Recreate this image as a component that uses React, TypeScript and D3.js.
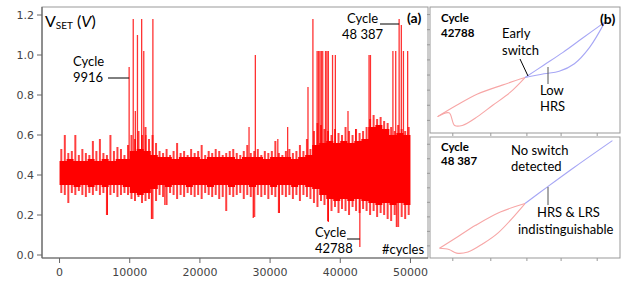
import * as d3 from 'd3';
import React from 'react';

// ---- panel (a): V_SET vs cycle ----
const xTicks = [0, 10000, 20000, 30000, 40000, 50000];
const yTicks = [0.0, 0.2, 0.4, 0.6, 0.8, 1.0, 1.2];

// dense core of the trace, per 1000 cycles
const coreLow = [
  0.35, 0.35, 0.34, 0.35, 0.34, 0.35, 0.34, 0.35, 0.35, 0.34,
  0.31, 0.30, 0.31, 0.33,
  0.35, 0.34, 0.35, 0.35, 0.34, 0.35, 0.35, 0.34, 0.35, 0.35, 0.34,
  0.35, 0.35, 0.34, 0.35, 0.35, 0.34, 0.35, 0.35, 0.34, 0.35, 0.34,
  0.33, 0.30,
  0.28, 0.27, 0.28, 0.27, 0.28, 0.27,
  0.26, 0.25, 0.26,
  0.25, 0.26, 0.25,
];
const coreHigh = [
  0.47, 0.48, 0.47, 0.47, 0.48, 0.47, 0.48, 0.47, 0.48, 0.48,
  0.52, 0.53, 0.52, 0.50,
  0.49, 0.49, 0.48, 0.49, 0.49, 0.49, 0.48, 0.49, 0.49, 0.49, 0.49,
  0.48, 0.49, 0.49, 0.49, 0.48, 0.49, 0.49, 0.49, 0.48, 0.49, 0.50,
  0.55, 0.56,
  0.57, 0.56, 0.57, 0.56, 0.57, 0.58,
  0.64, 0.65, 0.63,
  0.60, 0.61, 0.60,
];

// noisy fringe extent, per 500 cycles
const fringeHigh = [
  0.53, 0.60, 0.51, 0.52, 0.60, 0.50, 0.53, 0.51, 0.50, 0.57,
  0.52, 0.58, 0.51, 0.50, 0.60, 0.52, 0.54, 0.53, 0.50, 0.55,
  0.60, 0.58, 0.62, 0.60, 0.64, 0.58, 0.60, 0.56,
  0.52, 0.51, 0.53, 0.50, 0.52, 0.56, 0.51, 0.52, 0.50, 0.53,
  0.51, 0.52, 0.55, 0.50, 0.52, 0.51, 0.53, 0.52, 0.50, 0.51,
  0.52, 0.53, 0.51, 0.50, 0.52, 0.55, 0.51, 0.52, 0.53, 0.50,
  0.52, 0.51, 0.52, 0.57, 0.51, 0.50, 0.52, 0.53, 0.51, 0.52,
  0.55, 0.52, 0.58, 0.53,
  0.62, 0.66, 0.65, 0.63,
  0.62, 0.60, 0.63, 0.61, 0.60, 0.64, 0.62, 0.60, 0.63, 0.61, 0.62, 0.64,
  0.68, 0.70, 0.68, 0.69, 0.67, 0.66,
  0.64, 0.62, 0.65, 0.63, 0.62, 0.64,
];
const fringeLow = [
  0.31, 0.30, 0.26, 0.31, 0.30, 0.32, 0.30, 0.29, 0.31, 0.30,
  0.32, 0.30, 0.31, 0.20, 0.30, 0.31, 0.29, 0.30, 0.31, 0.30,
  0.28, 0.27, 0.29, 0.26, 0.27, 0.28, 0.18, 0.27,
  0.30, 0.29, 0.25, 0.31, 0.30, 0.28, 0.30, 0.29, 0.31, 0.30,
  0.29, 0.30, 0.28, 0.31, 0.30, 0.29, 0.30, 0.28, 0.29, 0.22,
  0.30, 0.29, 0.30, 0.31, 0.28, 0.30, 0.29, 0.19, 0.30, 0.29,
  0.30, 0.28, 0.30, 0.29, 0.21, 0.30, 0.29, 0.30, 0.28, 0.30,
  0.27, 0.30, 0.29, 0.28,
  0.26, 0.24, 0.27, 0.25,
  0.17, 0.22, 0.24, 0.21, 0.23, 0.22, 0.20, 0.24, 0.22, 0.21, 0.23, 0.22,
  0.20, 0.22, 0.19, 0.21, 0.20, 0.18,
  0.17, 0.20, 0.14, 0.19, 0.18, 0.20,
];

// isolated spikes [cycle, V_SET]
const upSpikes: [number, number][] = [
  [9916, 0.94], [10500, 1.18], [10800, 0.72], [11100, 1.1], [11700, 1.18],
  [12000, 1.02], [12300, 0.6], [13300, 1.18],
  [27000, 0.64], [27900, 1.0], [31100, 0.58], [32500, 0.64], [35400, 0.84],
  [36100, 1.18], [36700, 1.02], [36900, 1.02], [37100, 1.02], [37300, 1.02],
  [37500, 1.02], [37900, 1.02], [38100, 1.02], [38300, 1.02],
  [38900, 1.0], [39300, 1.0], [41100, 0.72], [42200, 0.63],
  [44100, 1.0], [44300, 1.0], [47500, 1.02], [47900, 1.02], [48387, 1.18],
  [48700, 1.15], [49000, 1.02], [49600, 1.02],
];
const downSpikes: [number, number][] = [
  [6800, 0.2], [13100, 0.18], [15000, 0.25], [27600, 0.185], [31300, 0.21],
  [38300, 0.165], [42788, 0.04], [48000, 0.14],
];

// ---- panel (b): I-V loops, normalised units ----
const topRedUpper: [number, number][] = [[4, 13], [14, 22], [25, 31], [38, 38], [50, 44]];
const topRedLower: [number, number][] = [[4, 13], [10, 16], [13, 6], [17, 6], [25, 13], [33, 22], [42, 32], [50, 44]];
const topBlueUpper: [number, number][] = [[50, 44], [60, 54], [70, 64], [80, 75], [92, 88]];
const topBlueLower: [number, number][] = [[50, 44], [60, 47], [68, 49], [76, 55], [84, 68], [92, 88]];
const botRedUpper: [number, number][] = [[5, 8], [15, 18], [24, 27], [37, 38], [50, 45]];
const botRedLower: [number, number][] = [[5, 8], [10, 7], [14, 4], [20, 5], [28, 12], [36, 21], [50, 45]];
const botBlue: [number, number][] = [[50, 45], [62, 59], [76, 75], [96, 97]];
const loopXTicks = [12, 32, 51, 69, 88];
const loopYTicks = [10, 22, 34, 46, 58, 70, 82, 94];

const RED = '#ff0000';
const PINK = '#f7a6a6';
const BLUE = '#a6a6f5';
const ANN = 'Lato, "Open Sans", sans-serif';
const TICKF = '"DejaVu Sans", sans-serif';

const App = () => {
  const W = 623;
  const H = 282;
  const x = d3.scaleLinear().domain([-2500, 52500]).range([42, 428]);
  const y = d3.scaleLinear().domain([-0.015, 1.24]).range([258, 7]);

  const coreArea = d3
    .area<number>()
    .x((_, i) => x(Math.min(i, 49) * 1000 + (i > 49 ? 1000 : 0)))
    .y0((_, i) => y(coreLow[Math.min(i, 49)]))
    .y1((_, i) => y(coreHigh[Math.min(i, 49)]))
    .curve(d3.curveStepAfter);
  const coreData = d3.range(51);

  const panels = [
    { top: 7, bottom: 133, loops: [topRedUpper, topRedLower], blue: [topBlueUpper, topBlueLower] },
    { top: 137, bottom: 258, loops: [botRedUpper, botRedLower], blue: [botBlue] },
  ];

  return (
    <svg width={W} height={H} style={{ position: 'absolute', left: 0, top: 0, background: '#fff' }}>
      {/* panel (a) */}
      <rect x={42} y={7} width={386} height={251} fill="none" stroke="#999" strokeWidth={1} />
      <path d={coreArea(coreData) || ''} fill={RED} />
      {fringeHigh.map((v, i) => (
        <line
          key={'f' + i}
          x1={x(i * 500 + 250)}
          x2={x(i * 500 + 250)}
          y1={y(fringeLow[i])}
          y2={y(v)}
          stroke={RED}
          strokeWidth={2}
          opacity={0.75}
        />
      ))}
      {upSpikes.map(([c, v], i) => (
        <line key={'u' + i} x1={x(c)} x2={x(c)} y1={y(0.45)} y2={y(v)} stroke={RED} strokeWidth={1.3} opacity={0.8} />
      ))}
      {downSpikes.map(([c, v], i) => (
        <line key={'d' + i} x1={x(c)} x2={x(c)} y1={y(0.35)} y2={y(v)} stroke={RED} strokeWidth={1.3} opacity={0.8} />
      ))}
      <line x1={42} x2={42} y1={7} y2={258} stroke="#666" strokeWidth={1.2} />
      <line x1={42} x2={428} y1={258} y2={258} stroke="#666" strokeWidth={1.2} />
      {yTicks.map((t) => (
        <g key={'yt' + t}>
          <line x1={37} x2={42} y1={y(t)} y2={y(t)} stroke="#666" />
          <text x={34} y={y(t)} dy="0.35em" textAnchor="end" fontFamily={TICKF} fontSize={11} fill="#444">
            {t.toFixed(1)}
          </text>
        </g>
      ))}
      {xTicks.map((t) => (
        <g key={'xt' + t}>
          <line x1={x(t)} x2={x(t)} y1={258} y2={263} stroke="#666" />
          <text x={x(t)} y={276} textAnchor="middle" fontFamily={TICKF} fontSize={11} fill="#444">
            {t}
          </text>
        </g>
      ))}
      <text x={45} y={27} fontFamily={ANN} fontSize={16} fill="#000">
        V<tspan fontSize={10} dy={2}>SET</tspan>
        <tspan dy={-2}> (</tspan>
        <tspan fontStyle="italic">V</tspan>)
      </text>
      <text x={407} y={23} fontFamily={ANN} fontSize={14} fontWeight="bold" fill="#000">(a)</text>
      <text x={73} y={66} fontFamily={ANN} fontSize={13} fill="#000">Cycle</text>
      <text x={73} y={82} fontFamily={ANN} fontSize={13} fill="#000">9916</text>
      <line x1={108} x2={x(9916)} y1={78} y2={78} stroke="#000" strokeWidth={1} />
      <text x={347} y={23} fontFamily={ANN} fontSize={13} fill="#000">Cycle</text>
      <text x={342} y={39} fontFamily={ANN} fontSize={13} fill="#000">48 387</text>
      <line x1={380} x2={x(48387)} y1={24} y2={24} stroke="#000" strokeWidth={1} />
      <text x={315} y={237} fontFamily={ANN} fontSize={13} fill="#000">Cycle</text>
      <text x={315} y={253} fontFamily={ANN} fontSize={13} fill="#000">42788</text>
      <line x1={347} x2={x(42788)} y1={239} y2={239} stroke="#000" strokeWidth={1} />
      <text x={382} y={254} fontFamily={ANN} fontSize={13} fill="#000">#cycles</text>

      {/* panel (b) */}
      {panels.map((p, pi) => {
        const lx = d3.scaleLinear().domain([0, 100]).range([430, 620]);
        const ly = d3.scaleLinear().domain([0, 100]).range([p.bottom, p.top]);
        const ln = d3
          .line<[number, number]>()
          .x((d) => lx(d[0]))
          .y((d) => ly(d[1]))
          .curve(d3.curveCatmullRom);
        return (
          <g key={'p' + pi}>
            <rect x={430} y={p.top} width={190} height={p.bottom - p.top} fill="#fff" stroke="#999" />
            {loopXTicks.map((t) => (
              <line key={'lx' + t} x1={lx(t)} x2={lx(t)} y1={p.bottom} y2={p.bottom + 3} stroke="#999" />
            ))}
            {loopYTicks.map((t) => (
              <line key={'ly' + t} x1={427} x2={430} y1={ly(t)} y2={ly(t)} stroke="#999" />
            ))}
            {p.loops.map((d, i) => (
              <path key={'r' + i} d={ln(d) || ''} fill="none" stroke={PINK} strokeWidth={1.1} />
            ))}
            {p.blue.map((d, i) => (
              <path key={'b' + i} d={ln(d) || ''} fill="none" stroke={BLUE} strokeWidth={1.1} />
            ))}
          </g>
        );
      })}
      <text x={441} y={22} fontFamily={ANN} fontSize={11.5} fontWeight="bold" fill="#000">Cycle</text>
      <text x={441} y={37} fontFamily={ANN} fontSize={11.5} fontWeight="bold" fill="#000">42788</text>
      <text x={600} y={24} fontFamily={ANN} fontSize={14} fontWeight="bold" fill="#000">(b)</text>
      <text x={502} y={38} fontFamily={ANN} fontSize={13} fill="#000">Early</text>
      <text x={502} y={55} fontFamily={ANN} fontSize={13} fill="#000">switch</text>
      <line x1={520} x2={528} y1={59} y2={76} stroke="#000" />
      <line x1={548} x2={548} y1={67} y2={84} stroke="#555" />
      <text x={540} y={95} fontFamily={ANN} fontSize={13} fill="#000">Low</text>
      <text x={540} y={111} fontFamily={ANN} fontSize={13} fill="#000">HRS</text>

      <text x={441} y={151} fontFamily={ANN} fontSize={11.5} fontWeight="bold" fill="#000">Cycle</text>
      <text x={441} y={165} fontFamily={ANN} fontSize={11.5} fontWeight="bold" fill="#000">48 387</text>
      <text x={511} y={155} fontFamily={ANN} fontSize={13} fill="#000">No switch</text>
      <text x={511} y={171} fontFamily={ANN} fontSize={13} fill="#000">detected</text>
      <line x1={548} x2={548} y1={187} y2={205} stroke="#555" />
      <text x={537} y={217} fontFamily={ANN} fontSize={13} fill="#000">HRS &amp; LRS</text>
      <text x={518} y={234} fontFamily={ANN} fontSize={13} fill="#000">indistinguishable</text>
    </svg>
  );
};

export default App;
